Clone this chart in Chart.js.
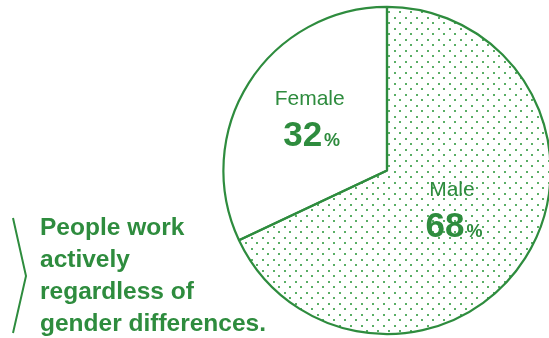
<!DOCTYPE html>
<html>
<head>
<meta charset="utf-8">
<script src="https://cdn.jsdelivr.net/npm/chart.js@4"></script>
<style>
  html, body { margin: 0; padding: 0; background: #fff; overflow: hidden; }
  body { width: 549px; height: 338px; position: relative; }
  #genderChart { position: absolute; left: 0; top: 0; }
  .note {
    position: absolute; left: 40px; top: 211px;
    font: bold 24.5px "Liberation Sans", Arial, Helvetica, sans-serif;
    line-height: 32px; color: #2e8c3e; white-space: nowrap;
  }
  .brace { position: absolute; left: 0; top: 0; }
</style>
</head>
<body>
<canvas id="genderChart" width="560" height="338"></canvas>
<svg class="brace" width="40" height="338">
  <polyline points="13,218 26,276 13,333" fill="none" stroke="#2e8c3e" stroke-width="2"/>
</svg>
<div class="note">People work<br>actively<br>regardless of<br>gender differences.</div>
<script>
const categories = ['Female', 'Male'];
const shares = [32, 68];
const percentSign = '%';

// how far out from the centre each label sits, as a fraction of the radius
const labelRadius = [0.56, 0.47];

const GREEN = '#2e8c3e';
const DOT = '#5aae66';

document.addEventListener('DOMContentLoaded', () => {
  const canvas = document.getElementById('genderChart');
  const ctx = canvas.getContext('2d');

  // staggered dot fill for the larger slice
  const tile = document.createElement('canvas');
  tile.width = 11;
  tile.height = 11;
  const t = tile.getContext('2d');
  t.fillStyle = DOT;
  t.fillRect(3, 0, 2, 2);
  t.fillRect(9, 6, 2, 2);
  const dots = ctx.createPattern(tile, 'repeat');

  const sliceLabels = {
    id: 'sliceLabels',
    afterDatasetsDraw(chart) {
      const c = chart.ctx;
      const values = chart.data.datasets[0].data;
      chart.getDatasetMeta(0).data.forEach((arc, i) => {
        const { x, y, startAngle, endAngle, outerRadius } =
          arc.getProps(['x', 'y', 'startAngle', 'endAngle', 'outerRadius'], true);
        const mid = (startAngle + endAngle) / 2;
        const ax = x + Math.cos(mid) * outerRadius * labelRadius[i];
        const ay = y + Math.sin(mid) * outerRadius * labelRadius[i];

        c.save();
        c.fillStyle = GREEN;
        c.textBaseline = 'alphabetic';
        c.textAlign = 'center';
        c.font = '21px "Liberation Sans", Arial, sans-serif';
        c.fillText(chart.data.labels[i], ax, ay - 16);

        // big number followed by a smaller percent sign
        const num = String(values[i]);
        c.font = 'bold 35px "Liberation Sans", Arial, sans-serif';
        const wNum = c.measureText(num).width;
        c.font = 'bold 18px "Liberation Sans", Arial, sans-serif';
        const wPct = c.measureText(percentSign).width;
        const gap = 2;
        const left = ax + 2 - (wNum + gap + wPct) / 2;
        c.textAlign = 'left';
        c.font = 'bold 35px "Liberation Sans", Arial, sans-serif';
        c.fillText(num, left, ay + 25);
        c.font = 'bold 18px "Liberation Sans", Arial, sans-serif';
        c.fillText(percentSign, left + wNum + gap, ay + 25);
        c.restore();
      });
    }
  };

  new Chart(ctx, {
    type: 'pie',
    data: {
      labels: categories,
      datasets: [{
        data: shares,
        backgroundColor: ['#ffffff', dots],
        borderColor: GREEN,
        borderWidth: 2.2,
        offset: 0,
        hoverOffset: 0
      }]
    },
    options: {
      responsive: false,
      animation: false,
      // female slice runs counter-clockwise from 12 o'clock
      rotation: -shares[0] * 3.6,
      layout: { padding: { left: 222.3, right: 8.3, top: 5.8, bottom: 2.8 } },
      plugins: {
        legend: { display: false },
        tooltip: { enabled: false }
      },
      events: []
    },
    plugins: [sliceLabels]
  });
});
</script>
</body>
</html>
